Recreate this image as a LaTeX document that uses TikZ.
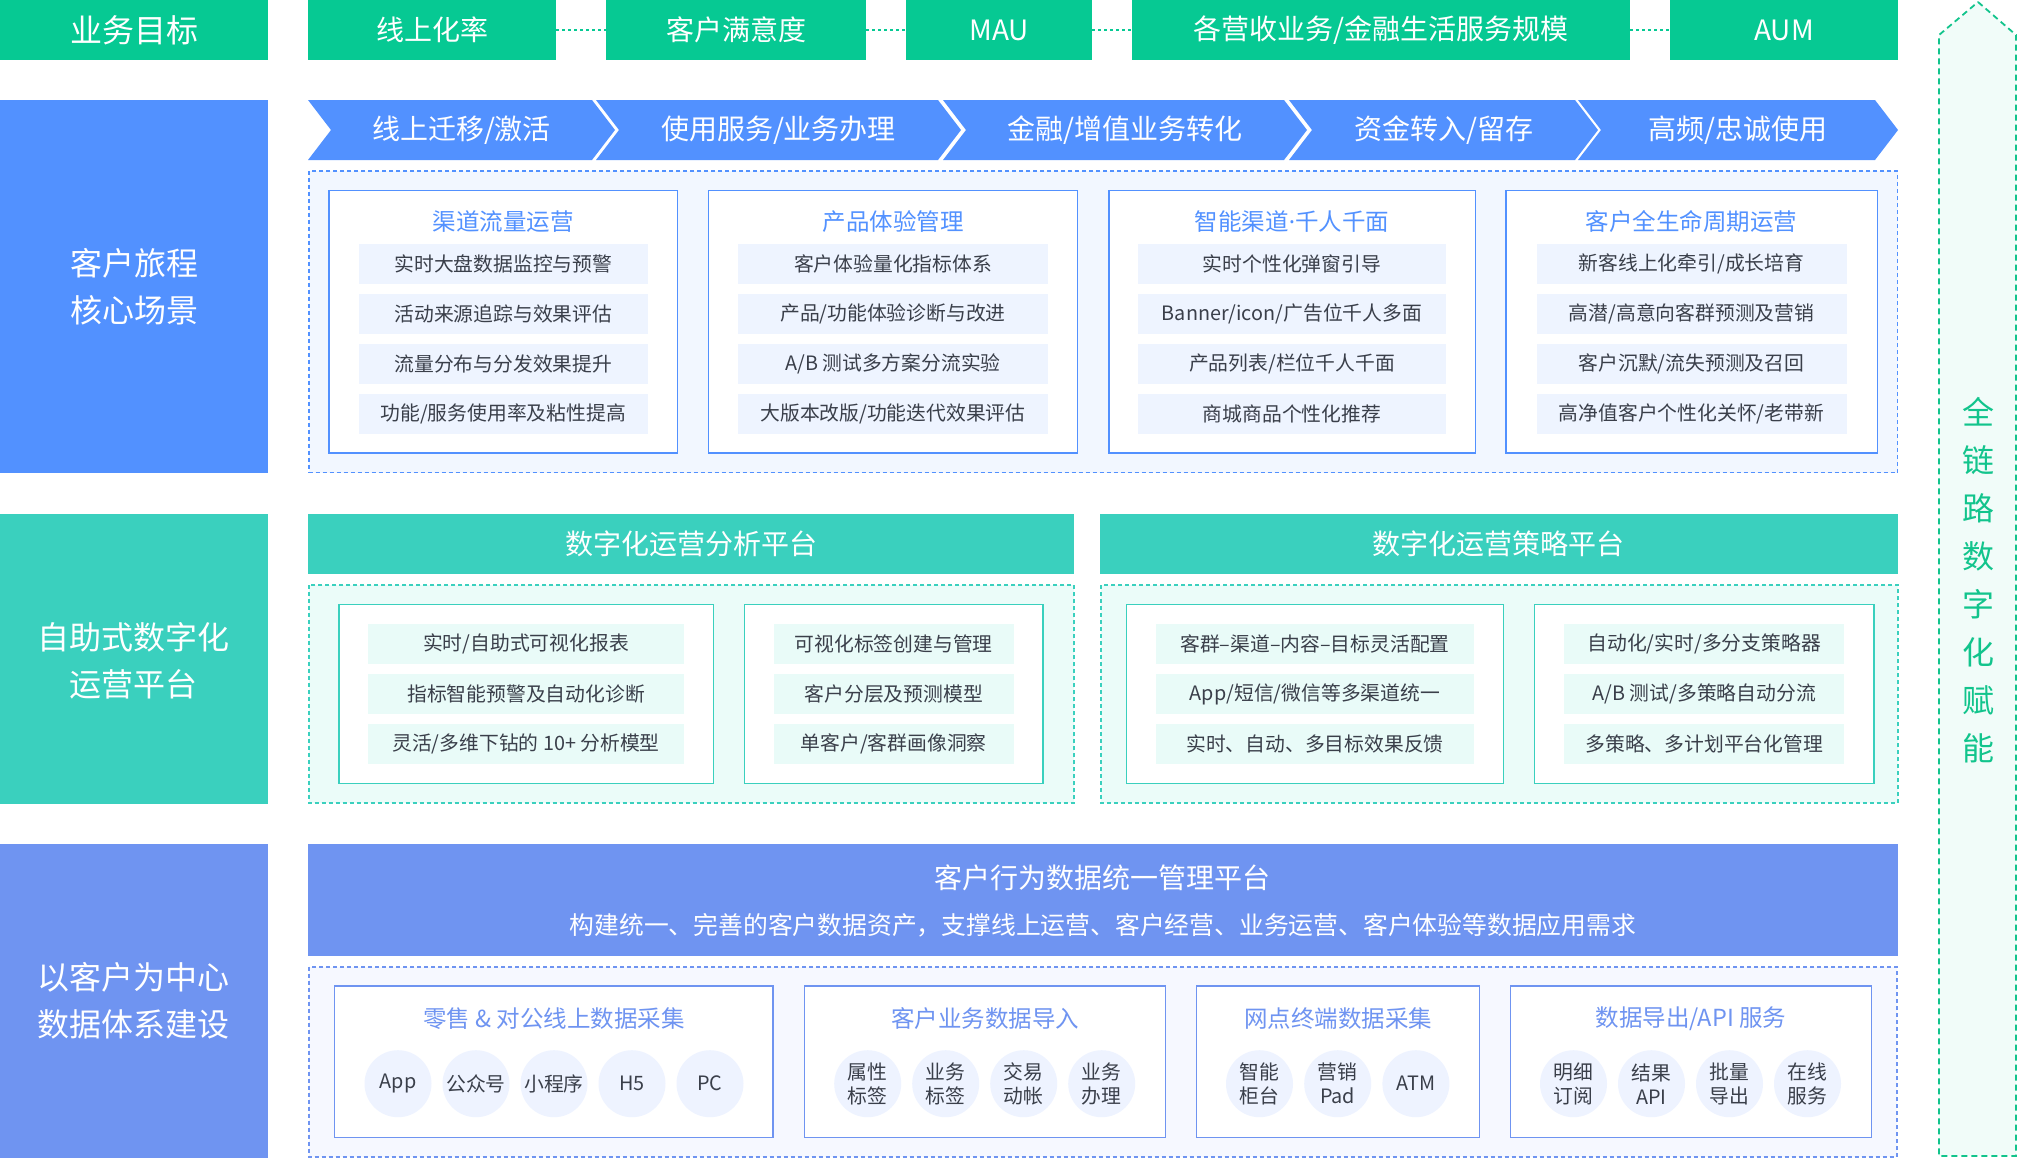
\documentclass[tikz,border=0pt]{standalone}
\usepackage{fontspec}
\setmainfont{Noto Sans CJK SC}
\newfontfamily\latinfont{Noto Sans}

\definecolor{goalgreen}{HTML}{06C993}
\definecolor{tripblue}{HTML}{5291FF}
\definecolor{tripfill}{HTML}{F2F7FF}
\definecolor{tripitem}{HTML}{EEF4FF}
\definecolor{optteal}{HTML}{3AD0BE}
\definecolor{optfill}{HTML}{EBFCF9}
\definecolor{optitem}{HTML}{E9FBF8}
\definecolor{datablue}{HTML}{6F94F1}
\definecolor{datafill}{HTML}{F6F8FF}
\definecolor{dataitem}{HTML}{EEF3FF}
\definecolor{itemtext}{HTML}{3A3F4A}
\definecolor{linkgreen}{HTML}{12C48C}
\definecolor{linkfill}{HTML}{F1FCF9}

\tikzset{
  goalbox/.style={fill=goalgreen, text=white, minimum height=30pt, inner sep=0pt, font=\fontsize{14}{16}\selectfont},
  goaldots/.style={goalgreen, line width=1pt, dash pattern=on 1.5pt off 1.5pt},
  sidebox/.style={text=white, align=center, font=\fontsize{16}{23.5}\selectfont},
  stagetext/.style={text=white, font=\fontsize{14}{16}\selectfont},
  zonebox/.style={line width=0.9pt, dash pattern=on 2pt off 1.5pt},
  cardbox/.style={fill=white, line width=0.7pt},
  cardtitle/.style={font=\fontsize{11.75}{14}\selectfont},
  sceneitem/.style={text=itemtext, minimum height=20pt, inner sep=0pt, font=\fontsize{9.9}{12}\selectfont},
  headbox/.style={fill=optteal, text=white, minimum height=30pt, inner sep=0pt, font=\fontsize{14}{16}\selectfont},
  sourcedot/.style={circle, fill=dataitem, text=itemtext, minimum size=33.5pt, inner sep=0pt, align=center, font=\fontsize{9.9}{12}\selectfont},
  linkarrow/.style={fill=linkfill, draw=linkgreen, line width=0.9pt, dash pattern=on 3pt off 2pt},
}

\begin{document}
\begin{tikzpicture}[x=0.5pt,y=-0.5pt]
\useasboundingbox (0,0) rectangle (2018,1158);

% Goals
\node[goalbox, minimum width=134pt, font=\fontsize{16}{18}\selectfont] (goal) at (134,30) {业务目标};
\node[goalbox, minimum width=124pt] (g1) at (432,30) {线上化率};
\node[goalbox, minimum width=130pt] (g2) at (736,30) {客户满意度};
\node[goalbox, minimum width=93pt] (g3) at (999,30) {MAU};
\node[goalbox, minimum width=249pt] (g4) at (1381,30) {各营收业务/金融生活服务规模};
\node[goalbox, minimum width=114pt] (g5) at (1784,30) {AUM};
\foreach \a/\b in {g1/g2,g2/g3,g3/g4,g4/g5}
  \draw[goaldots] (\a.east) -- (\b.west);

% Full chain arrow
\filldraw[linkarrow] (1978,2) -- (2016,35) -- (2016,1156) -- (1939,1156) -- (1939,35) -- cycle;
\node[text=linkgreen, align=center, font=\fontsize{16}{24}\selectfont] (chain) at (1978,580) {全\\链\\路\\数\\字\\化\\赋\\能};

% Side labels
\fill[tripblue] (0,100) rectangle (268,472.5);
\node[sidebox] (trip) at (134,287) {客户旅程\\核心场景};
\fill[optteal] (0,514) rectangle (268,804);
\node[sidebox] (opt) at (134,661) {自助式数字化\\运营平台};
\fill[datablue] (0,844) rectangle (268,1158);
\node[sidebox] (data) at (134,1001) {以客户为中心\\数据体系建设};

% Stages
\foreach \l/\r/\t [count=\i] in {308/592/{线上迁移/激活},596/938/{使用服务/业务办理},943/1284/{金融/增值业务转化},1289/1575/{资金转入/留存},1578/1875/{高频/忠诚使用}}
{
  \fill[tripblue] (\l,100) -- (\r,100) -- ({\r+23},130) -- (\r,160) -- (\l,160) -- ({\l+23},130) -- cycle;
  \node[stagetext] (st\i) at ({(\l+\r+23)/2},130) {\t};
}

% Scenes
\filldraw[zonebox, draw=tripblue, fill=tripfill] (309,171) rectangle (1897.5,472.5);

\filldraw[cardbox, draw=tripblue] (329,190.7) rectangle (677.5,453);
\node[cardtitle, text=tripblue] (sc1) at (503.3,221.7) {渠道流量运营};
\foreach \t [count=\i] in {实时大盘数据监控与预警,活动来源追踪与效果评估,流量分布与分发效果提升,功能/服务使用率及粘性提高}
  \node[sceneitem, fill=tripitem, minimum width=144.5pt] (sc1\i) at (503.3,{214+50*\i}) {\t};

\filldraw[cardbox, draw=tripblue] (708.7,190.7) rectangle (1077.6,453);
\node[cardtitle, text=tripblue] (sc2) at (893,221.7) {产品体验管理};
\foreach \t [count=\i] in {客户体验量化指标体系,产品/功能体验诊断与改进,A/B 测试多方案分流实验,大版本改版/功能迭代效果评估}
  \node[sceneitem, fill=tripitem, minimum width=155pt] (sc2\i) at (893,{214+50*\i}) {\t};

\filldraw[cardbox, draw=tripblue] (1108.8,190.7) rectangle (1475.3,453);
\node[cardtitle, text=tripblue] (sc3) at (1292,221.7) {智能渠道{\latinfont ·}千人千面};
\foreach \t [count=\i] in {实时个性化弹窗引导,Banner/icon/广告位千人多面,产品列表/栏位千人千面,商城商品个性化推荐}
  \node[sceneitem, fill=tripitem, minimum width=154pt] (sc3\i) at (1292,{214+50*\i}) {\t};

\filldraw[cardbox, draw=tripblue] (1506,190.7) rectangle (1877.5,453);
\node[cardtitle, text=tripblue] (sc4) at (1691.5,221.7) {客户全生命周期运营};
\foreach \t [count=\i] in {新客线上化牵引/成长培育,高潜/高意向客群预测及营销,客户沉默/流失预测及召回,高净值客户个性化关怀/老带新}
  \node[sceneitem, fill=tripitem, minimum width=155pt] (sc4\i) at (1691.5,{214+50*\i}) {\t};

% Platforms
\node[headbox, minimum width=383pt] (ana) at (691,544) {数字化运营分析平台};
\node[headbox, minimum width=399pt] (str) at (1498.8,544) {数字化运营策略平台};
\filldraw[zonebox, draw=optteal, fill=optfill] (308.7,585) rectangle (1074,803);
\filldraw[zonebox, draw=optteal, fill=optfill] (1101,585) rectangle (1897.8,803);

\filldraw[cardbox, draw=optteal] (338.8,604.3) rectangle (713.4,783.3);
\foreach \t [count=\i] in {实时/自助式可视化报表,指标智能预警及自动化诊断,灵活/多维下钻的 10+ 分析模型}
  \node[sceneitem, fill=optitem, minimum width=158pt] (pa\i) at (526,{594+50*\i}) {\t};

\filldraw[cardbox, draw=optteal] (744.3,604.3) rectangle (1043,783.3);
\foreach \t [count=\i] in {可视化标签创建与管理,客户分层及预测模型,单客户/客群画像洞察}
  \node[sceneitem, fill=optitem, minimum width=120pt] (pb\i) at (893.7,{594+50*\i}) {\t};

\filldraw[cardbox, draw=optteal] (1126.7,604.3) rectangle (1503.5,783.3);
\foreach \t [count=\i] in {客群–渠道–内容–目标灵活配置,App/短信/微信等多渠道统一,实时、自动、多目标效果反馈}
  \node[sceneitem, fill=optitem, minimum width=159pt] (pc\i) at (1315,{594+50*\i}) {\t};

\filldraw[cardbox, draw=optteal] (1534.6,604.3) rectangle (1873.8,783.3);
\foreach \t [count=\i] in {自动化/实时/多分支策略器,A/B 测试/多策略自动分流,多策略、多计划平台化管理}
  \node[sceneitem, fill=optitem, minimum width=139.8pt] (pd\i) at (1704.2,{594+50*\i}) {\t};

% Data
\fill[datablue] (308,844) rectangle (1897.8,956);
\node[text=white, font=\fontsize{14}{16}\selectfont] (dt) at (1102.9,878) {客户行为数据统一管理平台};
\node[text=white, font=\fontsize{12.4}{14}\selectfont] (ds) at (1102.9,925) {构建统一、完善的客户数据资产，支撑线上运营、客户经营、业务运营、客户体验等数据应用需求};
\filldraw[zonebox, draw=datablue, fill=datafill] (308.7,966.7) rectangle (1896.6,1156.7);

\filldraw[cardbox, draw=datablue] (334.6,986) rectangle (773,1137.3);
\node[cardtitle, text=datablue] (da) at (553.8,1018.3) {零售 \& 对公线上数据采集};
\foreach \t [count=\i] in {App,公众号,小程序,H5,PC}
  \node[sourcedot] (da\i) at ({320+78*\i},1083.7) {\t};

\filldraw[cardbox, draw=datablue] (804.6,986) rectangle (1165.5,1137.3);
\node[cardtitle, text=datablue] (db) at (985,1018.3) {客户业务数据导入};
\foreach \t [count=\i] in {属性\\标签,业务\\标签,交易\\动帐,业务\\办理}
  \node[sourcedot] (db\i) at ({789.7+78*\i},1083.7) {\t};

\filldraw[cardbox, draw=datablue] (1196.6,986) rectangle (1479.6,1137.3);
\node[cardtitle, text=datablue] (dc) at (1338.1,1018.3) {网点终端数据采集};
\foreach \t [count=\i] in {智能\\柜台,营销\\Pad,ATM}
  \node[sourcedot] (dc\i) at ({1181.3+78.2*\i},1083.7) {\t};

\filldraw[cardbox, draw=datablue] (1510.7,986) rectangle (1871.4,1137.3);
\node[cardtitle, text=datablue] (dd) at (1691,1018.3) {数据导出/API 服务};
\foreach \t [count=\i] in {明细\\订阅,结果\\API,批量\\导出,在线\\服务}
  \node[sourcedot] (dd\i) at ({1495.5+78*\i},1083.7) {\t};

\end{tikzpicture}
\end{document}
